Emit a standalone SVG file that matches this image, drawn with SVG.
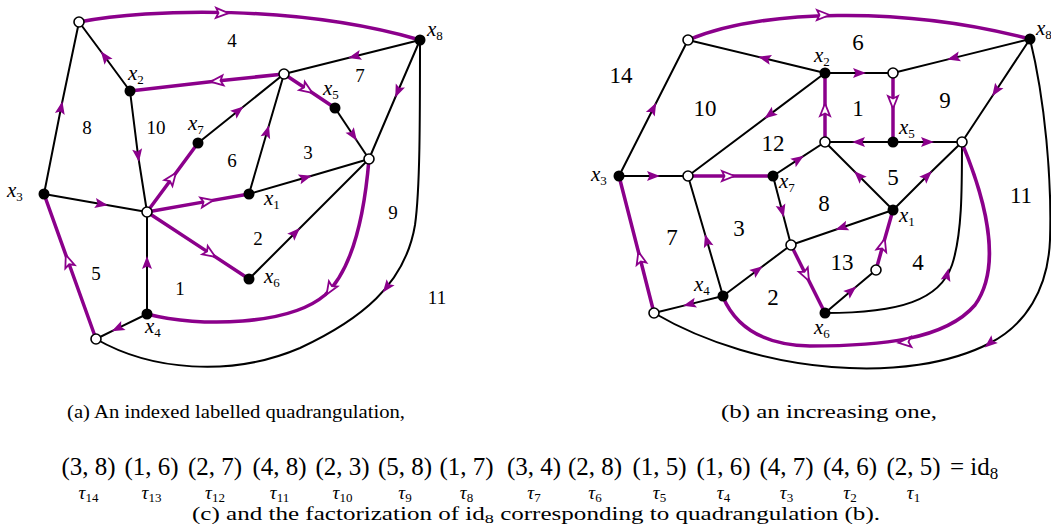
<svg xmlns="http://www.w3.org/2000/svg" width="1051" height="529" viewBox="0 0 1051 529">
<style>
.e{fill:none;stroke:#000;stroke-width:2}
.p{fill:none;stroke:#8b008b;stroke-width:3.5}
.f{marker-mid:url(#fa)}
.o{marker-mid:url(#oa)}
.a{fill:none;stroke:none}
.b{fill:#000}
.w{fill:#fff;stroke:#000;stroke-width:1.6}
.n{font-family:"Liberation Serif",serif;font-size:19px;text-anchor:middle}
.N{font-family:"Liberation Serif",serif;font-size:23px;text-anchor:middle}
.x{font-family:"Liberation Serif",serif;font-size:21px;font-style:italic}
.s{font-style:normal;font-size:13px}
.t{font-family:"Liberation Serif",serif;font-size:25px;text-anchor:middle}
.u{font-family:"Liberation Serif",serif;font-size:19px;font-style:italic;text-anchor:middle}
.c{font-family:"Liberation Serif",serif;font-size:18px}
</style>
<defs>
<marker id="fa" viewBox="-8 -7 16 14" markerWidth="16" markerHeight="14" refX="0" refY="0" orient="auto" markerUnits="userSpaceOnUse"><path d="M-6,-5 L7,0 L-6,5 L-3.5,0 Z" fill="#8b008b"/></marker>
<marker id="oa" viewBox="-9 -8 18 16" markerWidth="18" markerHeight="16" refX="0" refY="0" orient="auto" markerUnits="userSpaceOnUse"><path d="M-6,-5 L6.5,0 L-6,5 L-3.5,0 Z" fill="#fff" stroke="#8b008b" stroke-width="1.8"/></marker>
</defs>
<g id="connectors-a">
<path class="p" d="M79,22 C150,8 300,5 420,40"/>
<path class="a o" d="M218,13 L222,13 L226,13.2"/>
<path class="e" d="M420,40 C420,120 420,190 415,225 C405,285 360,320 300,348 C230,378 150,370 96,339"/>
<path class="a f" d="M390,283 L387,287 L384,291"/>
<path class="p" d="M369,159 C364,220 352,270 325,295 C290,325 200,328 147,314"/>
<path class="a o" d="M332,285 L330,289 L327,293"/>
<path class="e f" d="M44,194 L61,108 L79,22"/>
<path class="e f" d="M130,91 L105,57 L79,22"/>
<path class="e f" d="M130,91 L138,155 L147,212"/>
<path class="p o" d="M284,74 L217,81 L130,91"/>
<path class="e f" d="M420,40 L355,56.3 L284,74"/>
<path class="p o" d="M284,74 L307,89.3 L335,108"/>
<path class="e f" d="M335,108 L353,135 L369,159"/>
<path class="e f" d="M420,40 L398,91 L369,159"/>
<path class="e f" d="M198,143 L238,111 L284,74"/>
<path class="e f" d="M249,194 L267,132 L284,74"/>
<path class="p o" d="M147,212 L172,178.2 L198,143"/>
<path class="p o" d="M147,212 L207,201.4 L249,194"/>
<path class="e f" d="M249,194 L305,177.7 L369,159"/>
<path class="e f" d="M44,194 L101,204 L147,212"/>
<path class="p o" d="M147,212 L210,253.4 L249,279"/>
<path class="e f" d="M249,279 L295,233 L369,159"/>
<path class="e f" d="M147,314 L147,263 L147,212"/>
<path class="e f" d="M147,314 L118,328.2 L96,339"/>
<path class="p o" d="M96,339 L68,261 L44,194"/>
</g>
<g id="nodes-a">
<g id="a-top"><circle class="w" cx="79" cy="22" r="5"/></g>
<g id="a-x8"><circle class="b" cx="420" cy="40" r="5.5"/><text class="x" x="427" y="36">x<tspan class="s" dy="4">8</tspan></text></g>
<g id="a-x2"><circle class="b" cx="130" cy="91" r="5.5"/><text class="x" x="128" y="80">x<tspan class="s" dy="4">2</tspan></text></g>
<g id="a-B"><circle class="w" cx="284" cy="74" r="5"/></g>
<g id="a-x5"><circle class="b" cx="335" cy="108" r="5.5"/><text class="x" x="323" y="95">x<tspan class="s" dy="4">5</tspan></text></g>
<g id="a-C"><circle class="w" cx="369" cy="159" r="5"/></g>
<g id="a-x7"><circle class="b" cx="198" cy="143" r="5.5"/><text class="x" x="188" y="130">x<tspan class="s" dy="4">7</tspan></text></g>
<g id="a-x1"><circle class="b" cx="249" cy="194" r="5.5"/><text class="x" x="264" y="205">x<tspan class="s" dy="4">1</tspan></text></g>
<g id="a-x3"><circle class="b" cx="44" cy="194" r="5.5"/><text class="x" x="7" y="197">x<tspan class="s" dy="4">3</tspan></text></g>
<g id="a-O"><circle class="w" cx="147" cy="212" r="5"/></g>
<g id="a-x6"><circle class="b" cx="249" cy="279" r="5.5"/><text class="x" x="264" y="283">x<tspan class="s" dy="4">6</tspan></text></g>
<g id="a-x4"><circle class="b" cx="147" cy="314" r="5.5"/><text class="x" x="145" y="333">x<tspan class="s" dy="4">4</tspan></text></g>
<g id="a-D"><circle class="w" cx="96" cy="339" r="5"/></g>
</g>
<g id="faces-a">
<text class="n" x="232" y="47">4</text>
<text class="n" x="87" y="134">8</text>
<text class="n" x="156" y="134">10</text>
<text class="n" x="360" y="82">7</text>
<text class="n" x="232" y="167">6</text>
<text class="n" x="308" y="159">3</text>
<text class="n" x="258" y="245">2</text>
<text class="n" x="393" y="219">9</text>
<text class="n" x="96" y="280">5</text>
<text class="n" x="180" y="295">1</text>
<text class="n" x="437" y="304">11</text>
</g>
<g id="connectors-b">
<path class="p" d="M688,40 C760,10 900,5 1030,39"/>
<path class="a o" d="M819,15 L823,15 L827,15"/>
<path class="e" d="M1030,39 C1045,100 1052,180 1050,240 C1048,290 1025,325 990,343 C910,385 760,375 654,313"/>
<path class="a f" d="M993,340.5 L990,343 L987,345.5"/>
<path class="e" d="M825,313 C900,313 940,300 952,265 C962,235 962,190 962,143"/>
<path class="a f" d="M946,279 L947,275 L948,271"/>
<path class="p" d="M962,143 C990,210 1000,270 975,305 C945,340 880,346 810,346 C760,345 735,325 723,297"/>
<path class="a o" d="M909,342 L905,342.3 L901,342.6"/>
<path class="e f" d="M619,176 L653,109 L688,40"/>
<path class="e f" d="M825,73 L765,58.5 L688,40"/>
<path class="e f" d="M825,73 L770,114.4 L688,176"/>
<path class="e f" d="M825,73 L859,73 L893,73"/>
<path class="e f" d="M1030,39 L954,57.9 L893,73"/>
<path class="e f" d="M1030,39 L996,90.5 L962,142"/>
<path class="p o" d="M825,142 L825,110 L825,73"/>
<path class="p o" d="M893,73 L893,102 L893,142"/>
<path class="e f" d="M893,142 L859,142 L825,142"/>
<path class="e f" d="M893,142 L927,142 L962,142"/>
<path class="e f" d="M773,176 L798,159.7 L825,142"/>
<path class="e f" d="M893,210 L859,176 L825,142"/>
<path class="e f" d="M893,210 L927,176 L962,142"/>
<path class="e f" d="M619,176 L653,176 L688,176"/>
<path class="p o" d="M688,176 L728,176 L773,176"/>
<path class="e f" d="M723,296 L707,241 L688,176"/>
<path class="e f" d="M773,176 L782,210.5 L791,245"/>
<path class="e f" d="M893,210 L842,227.5 L791,245"/>
<path class="e f" d="M723,296 L757,270.5 L791,245"/>
<path class="p o" d="M791,245 L806,275 L825,313"/>
<path class="e f" d="M825,313 L851,291 L876,270"/>
<path class="p o" d="M876,270 L883,245 L893,210"/>
<path class="e f" d="M723,296 L690,304.1 L654,313"/>
<path class="p o" d="M654,313 L640,258 L619,176"/>
</g>
<g id="nodes-b">
<g id="b-P"><circle class="w" cx="688" cy="40" r="5"/></g>
<g id="b-x8"><circle class="b" cx="1030" cy="39" r="5.5"/><text class="x" x="1036" y="35">x<tspan class="s" dy="4">8</tspan></text></g>
<g id="b-x2"><circle class="b" cx="825" cy="73" r="5.5"/><text class="x" x="814" y="62">x<tspan class="s" dy="4">2</tspan></text></g>
<g id="b-Q"><circle class="w" cx="893" cy="73" r="5"/></g>
<g id="b-R"><circle class="w" cx="825" cy="142" r="5"/></g>
<g id="b-x5"><circle class="b" cx="893" cy="142" r="5.5"/><text class="x" x="899" y="134">x<tspan class="s" dy="4">5</tspan></text></g>
<g id="b-S"><circle class="w" cx="962" cy="142" r="5"/></g>
<g id="b-x3"><circle class="b" cx="619" cy="176" r="5.5"/><text class="x" x="591" y="181">x<tspan class="s" dy="4">3</tspan></text></g>
<g id="b-T"><circle class="w" cx="688" cy="176" r="5"/></g>
<g id="b-x7"><circle class="b" cx="773" cy="176" r="5.5"/><text class="x" x="779" y="188">x<tspan class="s" dy="4">7</tspan></text></g>
<g id="b-x1"><circle class="b" cx="893" cy="210" r="5.5"/><text class="x" x="899" y="222">x<tspan class="s" dy="4">1</tspan></text></g>
<g id="b-U"><circle class="w" cx="791" cy="245" r="5"/></g>
<g id="b-V"><circle class="w" cx="876" cy="270" r="5"/></g>
<g id="b-x4"><circle class="b" cx="723" cy="296" r="5.5"/><text class="x" x="694" y="291">x<tspan class="s" dy="4">4</tspan></text></g>
<g id="b-x6"><circle class="b" cx="825" cy="313" r="5.5"/><text class="x" x="814" y="334">x<tspan class="s" dy="4">6</tspan></text></g>
<g id="b-W"><circle class="w" cx="654" cy="313" r="5"/></g>
</g>
<g id="faces-b">
<text class="N" x="621" y="83">14</text>
<text class="N" x="858" y="50">6</text>
<text class="N" x="705" y="116">10</text>
<text class="N" x="858" y="116">1</text>
<text class="N" x="945" y="108">9</text>
<text class="N" x="773" y="151">12</text>
<text class="N" x="893" y="185">5</text>
<text class="N" x="824" y="211">8</text>
<text class="N" x="739" y="236">3</text>
<text class="N" x="672" y="245">7</text>
<text class="N" x="842" y="270">13</text>
<text class="N" x="918" y="270">4</text>
<text class="N" x="773" y="305">2</text>
<text class="N" x="1021" y="203">11</text>
</g>
<g id="captions">
<text class="c" x="67" y="418" textLength="338" lengthAdjust="spacingAndGlyphs">(a) An indexed labelled quadrangulation,</text>
<text class="c" x="721" y="418" textLength="216" lengthAdjust="spacingAndGlyphs">(b) an increasing one,</text>
<text class="t" x="88.5" y="475">(3, 8)</text>
<text class="t" x="151.5" y="475">(1, 6)</text>
<text class="t" x="215" y="475">(2, 7)</text>
<text class="t" x="279.5" y="475">(4, 8)</text>
<text class="t" x="342.5" y="475">(2, 3)</text>
<text class="t" x="405" y="475">(5, 8)</text>
<text class="t" x="466.5" y="475">(1, 7)</text>
<text class="t" x="534" y="475">(3, 4)</text>
<text class="t" x="595" y="475">(2, 8)</text>
<text class="t" x="659.5" y="475">(1, 5)</text>
<text class="t" x="723.5" y="475">(1, 6)</text>
<text class="t" x="786.5" y="475">(4, 7)</text>
<text class="t" x="850" y="475">(4, 6)</text>
<text class="t" x="913.5" y="475">(2, 5)</text>
<text class="t" x="950" y="475" style="text-anchor:start">= id<tspan font-size="17" dy="4">8</tspan></text>
<text class="u" x="88.5" y="499">τ<tspan class="s" dy="3">14</tspan></text>
<text class="u" x="151.5" y="499">τ<tspan class="s" dy="3">13</tspan></text>
<text class="u" x="215" y="499">τ<tspan class="s" dy="3">12</tspan></text>
<text class="u" x="279.5" y="499">τ<tspan class="s" dy="3">11</tspan></text>
<text class="u" x="342.5" y="499">τ<tspan class="s" dy="3">10</tspan></text>
<text class="u" x="405" y="499">τ<tspan class="s" dy="3">9</tspan></text>
<text class="u" x="466.5" y="499">τ<tspan class="s" dy="3">8</tspan></text>
<text class="u" x="534" y="499">τ<tspan class="s" dy="3">7</tspan></text>
<text class="u" x="595" y="499">τ<tspan class="s" dy="3">6</tspan></text>
<text class="u" x="659.5" y="499">τ<tspan class="s" dy="3">5</tspan></text>
<text class="u" x="723.5" y="499">τ<tspan class="s" dy="3">4</tspan></text>
<text class="u" x="786.5" y="499">τ<tspan class="s" dy="3">3</tspan></text>
<text class="u" x="850" y="499">τ<tspan class="s" dy="3">2</tspan></text>
<text class="u" x="913.5" y="499">τ<tspan class="s" dy="3">1</tspan></text>
<text class="c" x="192" y="520" textLength="688" lengthAdjust="spacingAndGlyphs">(c) and the factorization of id<tspan font-size="13" dy="3">8</tspan><tspan dy="-3"> corresponding to quadrangulation (b).</tspan></text>
</g>
</svg>
